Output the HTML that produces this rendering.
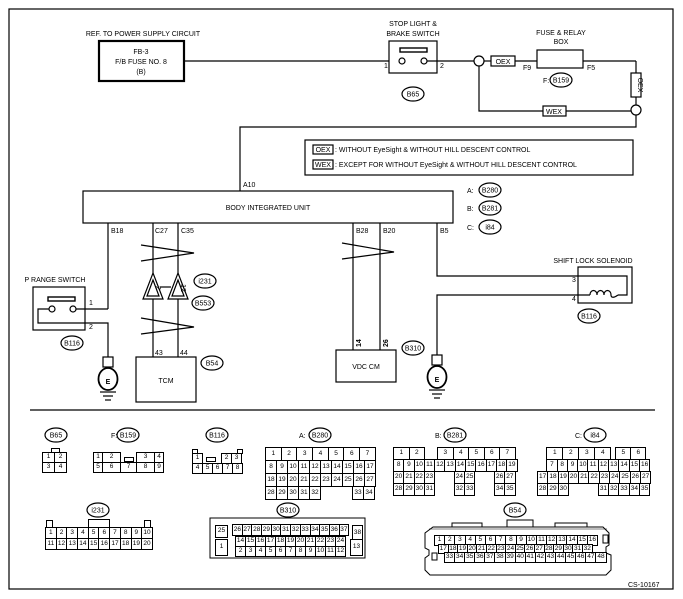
<!DOCTYPE html>
<html><head><meta charset="utf-8"><style>
html,body{margin:0;padding:0;background:#fff;}
body{width:683px;height:599px;position:relative;overflow:hidden;font-family:"Liberation Sans",Arial,sans-serif;}
svg{position:absolute;left:0;top:0;}
svg text{font-family:"Liberation Sans",Arial,sans-serif;font-size:7px;fill:#000;}
.k{position:absolute;font-size:6.5px;line-height:1;}
.r{display:flex;}
.r span{box-sizing:border-box;border:1px solid #000;margin:0 -1px -1px 0;display:flex;align-items:center;justify-content:center;background:#fff;}
.r span.g{border:none;background:transparent;}
.t{position:absolute;border:1px solid #000;box-sizing:border-box;background:#fff;}
</style></head><body>
<svg width="683" height="599" viewBox="0 0 683 599">
<g fill="none" stroke="#000" stroke-width="1.2">
<rect x="9" y="9" width="664" height="580"/>
<rect x="99" y="41" width="85" height="40" stroke-width="2.2"/>
<line x1="184" y1="61" x2="389" y2="61"/>
<rect x="389" y="41" width="48" height="32"/>
<rect x="400" y="48" width="27" height="4" stroke-width="1.4"/>
<circle cx="402" cy="61" r="3"/><circle cx="424" cy="61" r="3"/>
<line x1="427" y1="61" x2="474" y2="61"/>
<circle cx="479" cy="61" r="5"/>
<line x1="484" y1="61" x2="491" y2="61"/>
<rect x="491" y="56" width="24" height="10"/>
<line x1="515" y1="61" x2="537" y2="61"/>
<rect x="537" y="50" width="46" height="18"/>
<line x1="583" y1="61" x2="636" y2="61"/>
<line x1="636" y1="61" x2="636" y2="73"/>
<rect x="631" y="73" width="10" height="24"/>
<line x1="636" y1="97" x2="636" y2="105"/>
<circle cx="636" cy="110" r="5"/>
<polyline points="479,66 479,111 543,111"/>
<rect x="543" y="106" width="23" height="10"/>
<line x1="566" y1="111" x2="631" y2="111"/>
<polyline points="636,115 636,127 240,127 240,191"/>
<rect x="305" y="140" width="328" height="35"/>
<rect x="313" y="145" width="20" height="9"/>
<rect x="313" y="160" width="20" height="9"/>
<rect x="83" y="191" width="370" height="32"/>
<line x1="108" y1="223" x2="108" y2="309"/>
<line x1="76" y1="309" x2="108" y2="309"/>
<line x1="153" y1="223" x2="153" y2="273"/>
<line x1="178" y1="223" x2="178" y2="273"/>
<line x1="153" y1="299" x2="153" y2="357"/>
<line x1="178" y1="299" x2="178" y2="357"/>
<polyline points="141,245 194,253 141,261"/>
<polyline points="141,318 194,327 141,334"/>
<path d="M153,273 L163,299 L143,299 Z M153,280 L159,296 L147,296 Z"/>
<path d="M178,273 L188,299 L168,299 Z M178,280 L184,296 L172,296 Z"/>
<line x1="160" y1="287" x2="171" y2="287"/>
<line x1="353" y1="223" x2="353" y2="350"/>
<line x1="380" y1="223" x2="380" y2="350"/>
<polyline points="342,243 394,252 342,259"/>
<polyline points="437,223 437,276 627,276 627,295 618,295"/>
<polyline points="590,295 437,295 437,355"/>
<path d="M590,295 c0,-6 7,-6 7,0 c0,-6 7,-6 7,0 c0,-6 7,-6 7,0 c0,3 3,3 7,0"/>
<rect x="578" y="267" width="54" height="36"/>
<rect x="33" y="287" width="52" height="43"/>
<rect x="48" y="297" width="27" height="4" stroke-width="1.4"/>
<circle cx="52" cy="309" r="3"/><circle cx="73" cy="309" r="3"/>
<polyline points="49,309 38,309 38,323 108,323 108,357"/>
<rect x="136" y="357" width="60" height="45"/>
<rect x="336" y="350" width="60" height="32"/>
<rect x="103" y="357" width="10" height="10"/>
<ellipse cx="108" cy="379" rx="9.5" ry="11" stroke-width="1.8"/>
<line x1="100" y1="392" x2="116" y2="392"/><line x1="103" y1="396" x2="113" y2="396"/><line x1="105" y1="400" x2="111" y2="400"/>
<rect x="432" y="355" width="10" height="10"/>
<ellipse cx="437" cy="377" rx="9.5" ry="11" stroke-width="1.8"/>
<line x1="429" y1="390" x2="445" y2="390"/><line x1="432" y1="394" x2="442" y2="394"/><line x1="434" y1="398" x2="440" y2="398"/>
<line x1="30" y1="410" x2="655" y2="410"/>
<ellipse cx="413" cy="94" rx="11" ry="7"/>
<ellipse cx="561" cy="80" rx="11" ry="7"/>
<ellipse cx="490" cy="190" rx="11" ry="7"/>
<ellipse cx="490" cy="208" rx="11" ry="7"/>
<ellipse cx="490" cy="227" rx="11" ry="7"/>
<ellipse cx="205" cy="281" rx="11" ry="7"/>
<ellipse cx="203" cy="303" rx="11" ry="7"/>
<ellipse cx="72" cy="343" rx="11" ry="7"/>
<ellipse cx="212" cy="363" rx="11" ry="7"/>
<ellipse cx="413" cy="348" rx="11" ry="7"/>
<ellipse cx="589" cy="316" rx="11" ry="7"/>
<ellipse cx="56" cy="435" rx="11" ry="7"/>
<ellipse cx="128" cy="435" rx="11" ry="7"/>
<ellipse cx="217" cy="435" rx="11" ry="7"/>
<ellipse cx="320" cy="435" rx="11" ry="7"/>
<ellipse cx="455" cy="435" rx="11" ry="7"/>
<ellipse cx="595" cy="435" rx="11" ry="7"/>
<ellipse cx="98" cy="510" rx="11" ry="7"/>
<ellipse cx="288" cy="510" rx="11" ry="7"/>
<ellipse cx="515" cy="510" rx="11" ry="7"/>
<rect x="210" y="518" width="155" height="40" stroke-width="1"/>
<path d="M433,527 L603,527 L609,533 L609,545 L606,547 L606,553 L611,555 L611,570 L606,575 L430,575 L425,570 L425,558 L429,555 L429,550 L425,548 L425,533 Z" stroke-width="1"/>
<path d="M429,529 L607,529" stroke-width="0.6"/>
<rect x="452" y="523" width="30" height="4" stroke-width="1"/>
<rect x="507" y="520" width="26" height="7" stroke-width="1"/>
<rect x="555" y="523" width="32" height="4" stroke-width="1"/>
<rect x="603" y="535" width="5" height="8" stroke-width="1"/>
<rect x="432" y="553" width="5" height="7" stroke-width="1"/>
</g>
<text x="143" y="36" text-anchor="middle">REF. TO POWER SUPPLY CIRCUIT</text>
<text x="141" y="54" text-anchor="middle">FB-3</text>
<text x="141" y="64" text-anchor="middle">F/B FUSE NO. 8</text>
<text x="141" y="74" text-anchor="middle">(B)</text>
<text x="413" y="26" text-anchor="middle">STOP LIGHT &amp;</text>
<text x="413" y="36" text-anchor="middle">BRAKE SWITCH</text>
<text x="384" y="68">1</text><text x="440" y="68">2</text>
<text x="561" y="35" text-anchor="middle">FUSE &amp; RELAY</text>
<text x="561" y="44" text-anchor="middle">BOX</text>
<text x="523" y="70">F9</text><text x="587" y="70">F5</text>
<text x="543" y="83">F:</text>
<text x="503" y="64" text-anchor="middle">OEX</text>
<text x="554" y="114" text-anchor="middle">WEX</text>
<text transform="translate(638,85) rotate(90)" text-anchor="middle" font-size="6.5">OEX</text>
<text x="323" y="152" text-anchor="middle">OEX</text>
<text x="323" y="167" text-anchor="middle">WEX</text>
<text x="335" y="152">: WITHOUT EyeSight &amp; WITHOUT HILL DESCENT CONTROL</text>
<text x="335" y="167">: EXCEPT FOR WITHOUT EyeSight &amp; WITHOUT HILL DESCENT CONTROL</text>
<text x="243" y="187">A10</text>
<text x="268" y="210" text-anchor="middle">BODY INTEGRATED UNIT</text>
<text x="467" y="193">A:</text><text x="467" y="211">B:</text><text x="467" y="230">C:</text>
<text x="111" y="233">B18</text><text x="155" y="233">C27</text><text x="181" y="233">C35</text>
<text x="356" y="233">B28</text><text x="383" y="233">B20</text><text x="440" y="233">B5</text>
<text x="55" y="282" text-anchor="middle">P RANGE SWITCH</text>
<text x="89" y="305">1</text><text x="89" y="329">2</text>
<text transform="translate(156,288) rotate(90)" text-anchor="middle" font-size="6">2</text>
<text transform="translate(181,288) rotate(90)" text-anchor="middle" font-size="6">12</text>
<text x="155" y="355">43</text><text x="180" y="355">44</text>
<text x="166" y="383" text-anchor="middle">TCM</text>
<text x="366" y="369" text-anchor="middle">VDC CM</text>
<text transform="translate(361,347) rotate(-90)" font-size="7" font-weight="bold">14</text>
<text transform="translate(388,347) rotate(-90)" font-size="7" font-weight="bold">26</text>
<text x="593" y="263" text-anchor="middle">SHIFT LOCK SOLENOID</text>
<text x="572" y="282">3</text><text x="572" y="301">4</text>
<text x="108" y="384" text-anchor="middle" font-size="14" font-weight="bold">E</text>
<text x="437" y="382" text-anchor="middle" font-size="14" font-weight="bold">E</text>
<g text-anchor="middle" font-size="6.5">
<text x="413" y="96.5">B65</text><text x="561" y="82.5">B159</text>
<text x="490" y="192.5">B280</text><text x="490" y="210.5">B281</text><text x="490" y="229.5">i84</text>
<text x="205" y="283.5">i231</text><text x="203" y="305.5">B553</text>
<text x="72" y="345.5">B116</text><text x="212" y="365.5">B54</text>
<text x="413" y="350.5">B310</text><text x="589" y="318.5">B116</text>
<text x="56" y="437.5">B65</text><text x="128" y="437.5">B159</text><text x="217" y="437.5">B116</text>
<text x="320" y="437.5">B280</text><text x="455" y="437.5">B281</text><text x="595" y="437.5">i84</text>
<text x="98" y="512.5">i231</text><text x="288" y="512.5">B310</text><text x="515" y="512.5">B54</text>
</g>
<text x="111" y="438">F:</text><text x="299" y="438">A:</text><text x="435" y="438">B:</text><text x="575" y="438">C:</text>
<text x="628" y="587" font-size="8.5">CS-10167</text>
</svg>

<div class="t" style="left:51px;top:448px;width:9px;height:5px"></div>
<div class="k" style="left:42px;top:452px">
<div class="r" style="height:10px"><span style="width:13px">1</span><span style="width:13px">2</span></div>
<div class="r" style="height:10px"><span style="width:13px">3</span><span style="width:13px">4</span></div></div>

<div class="k" style="left:93px;top:452px">
<div class="r" style="height:10px"><span style="width:10px">1</span><span style="width:19px">2</span><span class="g" style="width:17px"></span><span style="width:19px">3</span><span style="width:10px">4</span></div>
<div class="r" style="height:10px"><span style="width:10px">5</span><span style="width:19px">6</span><span style="width:17px">7</span><span style="width:19px">8</span><span style="width:10px">9</span></div></div>
<div class="t" style="left:124px;top:457px;width:10px;height:5px"></div>

<div class="t" style="left:192px;top:449px;width:6px;height:5px"></div>
<div class="t" style="left:237px;top:449px;width:6px;height:5px"></div>
<div class="t" style="left:206px;top:457px;width:10px;height:5px"></div>
<div class="k" style="left:192px;top:453px">
<div class="r" style="height:10px"><span style="width:11px">1</span><span class="g" style="width:20px"></span><span style="width:11px">2</span><span style="width:11px">3</span></div>
<div class="r" style="height:10px"><span style="width:11px">4</span><span style="width:11px">5</span><span style="width:11px">6</span><span style="width:11px">7</span><span style="width:11px">8</span></div></div>

<div class="k" style="left:265px;top:447px">
<div class="r" style="height:13px"><span style="width:16.7px">1</span><span style="width:16.7px">2</span><span style="width:16.7px">3</span><span style="width:16.7px">4</span><span style="width:16.7px">5</span><span style="width:16.7px">6</span><span style="width:16.7px">7</span></div>
<div class="r" style="height:13px"><span style="width:12px">8</span><span style="width:12px">9</span><span style="width:12px">10</span><span style="width:12px">11</span><span style="width:12px">12</span><span style="width:12px">13</span><span style="width:12px">14</span><span style="width:12px">15</span><span style="width:12px">16</span><span style="width:12px">17</span></div>
<div class="r" style="height:13px"><span style="width:12px">18</span><span style="width:12px">19</span><span style="width:12px">20</span><span style="width:12px">21</span><span style="width:12px">22</span><span style="width:12px">23</span><span style="width:12px">24</span><span style="width:12px">25</span><span style="width:12px">26</span><span style="width:12px">27</span></div>
<div class="r" style="height:13px"><span style="width:12px">28</span><span style="width:12px">29</span><span style="width:12px">30</span><span style="width:12px">31</span><span style="width:12px">32</span><span class="g" style="width:33px"></span><span style="width:12px">33</span><span style="width:12px">34</span></div></div>

<div class="k" style="left:393px;top:447px">
<div class="r" style="height:12px"><span style="width:16.5px">1</span><span style="width:16.5px">2</span><span class="g" style="width:14px"></span><span style="width:16.5px">3</span><span style="width:16.5px">4</span><span style="width:16.5px">5</span><span style="width:16.5px">6</span><span style="width:16.5px">7</span></div>
<div class="r" style="height:12px"><span style="width:11.3px">8</span><span style="width:11.3px">9</span><span style="width:11.3px">10</span><span style="width:11.3px">11</span><span style="width:11.3px">12</span><span style="width:11.3px">13</span><span style="width:11.3px">14</span><span style="width:11.3px">15</span><span style="width:11.3px">16</span><span style="width:11.3px">17</span><span style="width:11.3px">18</span><span style="width:11.3px">19</span></div>
<div class="r" style="height:12px"><span style="width:11.3px">20</span><span style="width:11.3px">21</span><span style="width:11.3px">22</span><span style="width:11.3px">23</span><span class="g" style="width:20.6px"></span><span style="width:11.3px">24</span><span style="width:11.3px">25</span><span class="g" style="width:20.6px"></span><span style="width:11.3px">26</span><span style="width:11.3px">27</span></div>
<div class="r" style="height:12px"><span style="width:11.3px">28</span><span style="width:11.3px">29</span><span style="width:11.3px">30</span><span style="width:11.3px">31</span><span class="g" style="width:20.6px"></span><span style="width:11.3px">32</span><span style="width:11.3px">33</span><span class="g" style="width:20.6px"></span><span style="width:11.3px">34</span><span style="width:11.3px">35</span></div></div>

<div class="k" style="left:537px;top:447px">
<div class="r" style="height:12px"><span class="g" style="width:10.3px"></span><span style="width:17px">1</span><span style="width:17px">2</span><span style="width:17px">3</span><span style="width:17px">4</span><span class="g" style="width:6px"></span><span style="width:16px">5</span><span style="width:16px">6</span></div>
<div class="r" style="height:12px"><span class="g" style="width:10.3px"></span><span style="width:11.3px">7</span><span style="width:11.3px">8</span><span style="width:11.3px">9</span><span style="width:11.3px">10</span><span style="width:11.3px">11</span><span style="width:11.3px">12</span><span style="width:11.3px">13</span><span style="width:11.3px">14</span><span style="width:11.3px">15</span><span style="width:11.3px">16</span></div>
<div class="r" style="height:12px"><span style="width:11.3px">17</span><span style="width:11.3px">18</span><span style="width:11.3px">19</span><span style="width:11.3px">20</span><span style="width:11.3px">21</span><span style="width:11.3px">22</span><span style="width:11.3px">23</span><span style="width:11.3px">24</span><span style="width:11.3px">25</span><span style="width:11.3px">26</span><span style="width:11.3px">27</span></div>
<div class="r" style="height:12px"><span style="width:11.3px">28</span><span style="width:11.3px">29</span><span style="width:11.3px">30</span><span class="g" style="width:30.9px"></span><span style="width:11.3px">31</span><span style="width:11.3px">32</span><span style="width:11.3px">33</span><span style="width:11.3px">34</span><span style="width:11.3px">35</span></div></div>

<div class="t" style="left:46px;top:520px;width:7px;height:8px"></div>
<div class="t" style="left:144px;top:520px;width:7px;height:8px"></div>
<div class="t" style="left:88px;top:519px;width:22px;height:9px"></div>
<div class="k" style="left:45px;top:527px">
<div class="r" style="height:11px"><span style="width:11.7px">1</span><span style="width:11.7px">2</span><span style="width:11.7px">3</span><span style="width:11.7px">4</span><span style="width:11.7px">5</span><span style="width:11.7px">6</span><span style="width:11.7px">7</span><span style="width:11.7px">8</span><span style="width:11.7px">9</span><span style="width:11.7px">10</span></div>
<div class="r" style="height:11px"><span style="width:11.7px">11</span><span style="width:11.7px">12</span><span style="width:11.7px">13</span><span style="width:11.7px">14</span><span style="width:11.7px">15</span><span style="width:11.7px">16</span><span style="width:11.7px">17</span><span style="width:11.7px">18</span><span style="width:11.7px">19</span><span style="width:11.7px">20</span></div></div>

<div class="k" style="left:215px;top:525px"><div class="r" style="height:12px"><span style="width:13px">25</span></div></div>
<div class="k" style="left:215px;top:539px"><div class="r" style="height:16px"><span style="width:13px">1</span></div></div>
<div class="k" style="left:352px;top:525px"><div class="r" style="height:15px"><span style="width:11px">38</span></div></div>
<div class="k" style="left:350px;top:539px"><div class="r" style="height:16px"><span style="width:13px">13</span></div></div>
<div class="k" style="left:232px;top:524px"><div class="r" style="height:11px"><span style="width:10.7px">26</span><span style="width:10.7px">27</span><span style="width:10.7px">28</span><span style="width:10.7px">29</span><span style="width:10.7px">30</span><span style="width:10.7px">31</span><span style="width:10.7px">32</span><span style="width:10.7px">33</span><span style="width:10.7px">34</span><span style="width:10.7px">35</span><span style="width:10.7px">36</span><span style="width:10.7px">37</span></div></div>
<div class="k" style="left:235px;top:536px">
<div class="r" style="height:10px"><span style="width:11px">14</span><span style="width:11px">15</span><span style="width:11px">16</span><span style="width:11px">17</span><span style="width:11px">18</span><span style="width:11px">19</span><span style="width:11px">20</span><span style="width:11px">21</span><span style="width:11px">22</span><span style="width:11px">23</span><span style="width:11px">24</span></div>
<div class="r" style="height:10px"><span style="width:11px">2</span><span style="width:11px">3</span><span style="width:11px">4</span><span style="width:11px">5</span><span style="width:11px">6</span><span style="width:11px">7</span><span style="width:11px">8</span><span style="width:11px">9</span><span style="width:11px">10</span><span style="width:11px">11</span><span style="width:11px">12</span></div></div>

<div class="k" style="left:434px;top:535px"><div class="r" style="height:9.5px"><span style="width:11.2px">1</span><span style="width:11.2px">2</span><span style="width:11.2px">3</span><span style="width:11.2px">4</span><span style="width:11.2px">5</span><span style="width:11.2px">6</span><span style="width:11.2px">7</span><span style="width:11.2px">8</span><span style="width:11.2px">9</span><span style="width:11.2px">10</span><span style="width:11.2px">11</span><span style="width:11.2px">12</span><span style="width:11.2px">13</span><span style="width:11.2px">14</span><span style="width:11.2px">15</span><span style="width:11.2px">16</span></div></div>
<div class="k" style="left:438px;top:544px"><div class="r" style="height:9px"><span style="width:10.6px">17</span><span style="width:10.6px">18</span><span style="width:10.6px">19</span><span style="width:10.6px">20</span><span style="width:10.6px">21</span><span style="width:10.6px">22</span><span style="width:10.6px">23</span><span style="width:10.6px">24</span><span style="width:10.6px">25</span><span style="width:10.6px">26</span><span style="width:10.6px">27</span><span style="width:10.6px">28</span><span style="width:10.6px">29</span><span style="width:10.6px">30</span><span style="width:10.6px">31</span><span style="width:10.6px">32</span></div></div>
<div class="k" style="left:444px;top:552px"><div class="r" style="height:9.5px"><span style="width:11.1px">33</span><span style="width:11.1px">34</span><span style="width:11.1px">35</span><span style="width:11.1px">36</span><span style="width:11.1px">37</span><span style="width:11.1px">38</span><span style="width:11.1px">39</span><span style="width:11.1px">40</span><span style="width:11.1px">41</span><span style="width:11.1px">42</span><span style="width:11.1px">43</span><span style="width:11.1px">44</span><span style="width:11.1px">45</span><span style="width:11.1px">46</span><span style="width:11.1px">47</span><span style="width:11.1px">48</span></div></div>
</body></html>
